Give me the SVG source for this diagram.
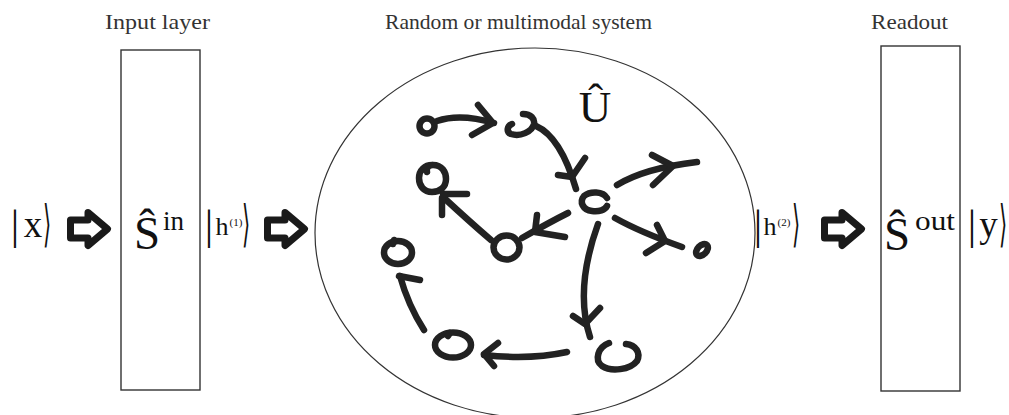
<svg xmlns="http://www.w3.org/2000/svg" width="1009" height="415" viewBox="0 0 1009 415">
<style>
.lbl{font-family:"Liberation Serif","Times New Roman",serif;font-size:22px;fill:#333}
.m{font-family:"Liberation Serif","Times New Roman",serif;fill:#111}
.br{font-family:"DejaVu Sans",sans-serif;fill:#111}
.box{fill:none;stroke:#333;stroke-width:1.4}
.ell{fill:none;stroke:#333;stroke-width:1.2}
.hand{fill:none;stroke:#222;stroke-width:6.5;stroke-linecap:round;stroke-linejoin:round}
.big{fill:#fff;stroke:#1a1a1a;stroke-width:7;stroke-linejoin:round}
</style>
<defs>
<path id="bigArrow" class="big" d="M2.5,10 L20,10 L20,2.5 L39.5,19 L20,35.5 L20,28 L2.5,28 Z"/>
</defs>
<rect width="1009" height="415" fill="#fff"/>

<g id="input-layer">
<text class="lbl" x="157.5" y="29" text-anchor="middle" textLength="105" lengthAdjust="spacingAndGlyphs">Input layer</text>
<rect class="box" x="121" y="50" width="79" height="340"/>
<text class="m" x="147" y="248.5" font-size="47" text-anchor="middle">Ŝ</text>
<text class="m" x="163" y="230" font-size="27">in</text>
</g>

<g id="ket-x">
<text class="m" x="15" y="239" font-size="42" text-anchor="middle">|</text>
<text class="m" x="33" y="237" font-size="37" text-anchor="middle">x</text>
<text class="br" transform="translate(47,241) scale(0.42,1)" font-size="50" text-anchor="middle">⟩</text>
</g>

<g id="ket-h1">
<text class="m" x="209" y="239" font-size="42" text-anchor="middle">|</text>
<text class="m" x="222" y="235" font-size="26" text-anchor="middle">h</text>
<text class="m" x="229.5" y="226" font-size="11">(1)</text>
<text class="br" transform="translate(246,241) scale(0.42,1)" font-size="50" text-anchor="middle">⟩</text>
</g>

<g id="system">
<text class="lbl" x="518.5" y="28.5" text-anchor="middle" textLength="267" lengthAdjust="spacingAndGlyphs">Random or multimodal system</text>
<ellipse class="ell" cx="535" cy="233" rx="220" ry="185"/>
<text class="m" x="595" y="122" font-size="45" text-anchor="middle">Û</text>
</g>

<g id="ket-h2">
<text class="m" x="758" y="239" font-size="42" text-anchor="middle">|</text>
<text class="m" x="770" y="235" font-size="26" text-anchor="middle">h</text>
<text class="m" x="777.5" y="226" font-size="11">(2)</text>
<text class="br" transform="translate(796,241) scale(0.42,1)" font-size="50" text-anchor="middle">⟩</text>
</g>

<g id="readout">
<text class="lbl" x="909.5" y="29" text-anchor="middle" textLength="77" lengthAdjust="spacingAndGlyphs">Readout</text>
<rect class="box" x="881" y="46" width="79" height="345"/>
<text class="m" x="897" y="250" font-size="47" text-anchor="middle">Ŝ</text>
<text class="m" x="915" y="230" font-size="27" textLength="40" lengthAdjust="spacingAndGlyphs">out</text>
</g>

<g id="ket-y">
<text class="m" x="972" y="239" font-size="42" text-anchor="middle">|</text>
<text class="m" x="988.5" y="237" font-size="37" text-anchor="middle">y</text>
<text class="br" transform="translate(1003,241) scale(0.42,1)" font-size="50" text-anchor="middle">⟩</text>
</g>

<g id="node-a"><circle class="hand" cx="427" cy="126" r="7.5"/></g>
<g id="node-b"><path class="hand" d="M523,114 C531,114 535,119 534,124 C532,132 520,137 511,134 C506,132 507,126 512,124"/></g>
<g id="node-c"><path class="hand" d="M607,198 C603,191 590,191 584,196 C579,202 583,210 592,211 C599,212 605,210 607,206"/></g>
<g id="node-d"><path class="hand" d="M427,172 C426,167 429,165 433,165 C442,165 446,172 446,179 C446,187 440,192 432,192 C424,192 419,186 419,178 C419,170 425,165 432,165"/></g>
<g id="node-e"><ellipse class="hand" cx="506.5" cy="247.5" rx="13" ry="12"/></g>
<g id="node-f"><ellipse class="hand" cx="702" cy="250" rx="7" ry="4.5" transform="rotate(-45 702 250)"/></g>
<g id="node-g"><path class="hand" d="M609,343 C598,347 594,360 602,366 C611,372 630,370 637,361 C641,353 636,345 626,344"/></g>
<g id="node-h"><ellipse class="hand" cx="453" cy="345" rx="18" ry="12.5"/><path class="hand" d="M448,336 L450,333"/></g>
<g id="node-i"><ellipse class="hand" cx="398" cy="252.5" rx="14" ry="11.5"/><path class="hand" d="M393,244 L394,240"/></g>

<g id="connectors">
<g class="hand">
<path d="M437,121 Q460,113 494,123"/><path d="M478,105 L493,123 L472,135"/>
<path d="M536,126 C552,133 566,155 576,189"/><path d="M558,175 L572,177 M585,158 L572,177"/>
<path d="M617,185 Q645,168 697,162"/><path d="M652,155 L673,166 L653,185"/>
<path d="M615,218 Q640,232 682,247"/><path d="M657,225 L665,241 L646,253"/>
<path d="M568,213 Q550,222 522,238"/><path d="M537,215 L535,232 L565,237"/>
<path d="M491,240 Q470,222 443,197"/><path d="M443,194 L467,194 M442,198 L442,215"/>
<path d="M598,224 C585,260 578,300 590,337"/><path d="M573,316 L585,324 L600,308"/>
<path d="M567,352 Q530,360 484,355"/><path d="M498,343 L484,354 L494,366"/>
<path d="M424,330 Q408,305 400,276"/><path d="M399,276 L420,280"/>
</g>
<use href="#bigArrow" x="68" y="210"/>
<use href="#bigArrow" x="265" y="210"/>
<use href="#bigArrow" x="822" y="210"/>
</g>
</svg>
